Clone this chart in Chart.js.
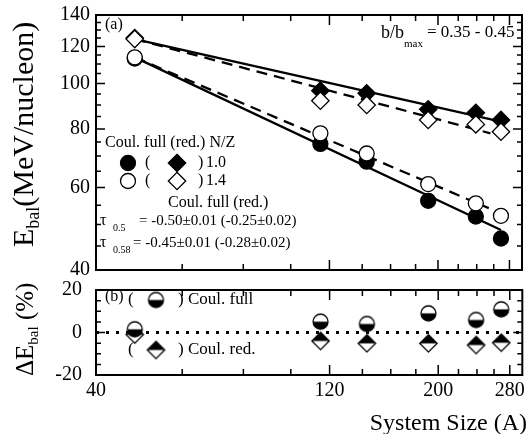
<!DOCTYPE html>
<html>
<head>
<meta charset="utf-8">
<script src="https://cdn.jsdelivr.net/npm/chart.js@4.4.1/dist/chart.umd.min.js"></script>
<style>
html, body { margin: 0; padding: 0; background: #fff; }
#wrap { position: relative; width: 532px; height: 434px; }
.box { position: absolute; left: 0; width: 532px; }
</style>
</head>
<body>
<div id="wrap">
  <div class="box" style="top:0;height:280px"><canvas id="topChart"></canvas></div>
  <div class="box" style="top:280px;height:154px"><canvas id="botChart"></canvas></div>
</div>
<script>
// system size A of the six reactions
var sizeA = [48, 115, 143, 191, 239, 269];
// E_bal (MeV/nucleon)
var fullNZ10 = [113.0, 74.3, 68.1, 56.2, 52.0, 46.7];  // Coul. full, N/Z 1.0
var fullNZ14 = [113.7, 78.3, 70.9, 61.0, 55.5, 52.2];  // Coul. full, N/Z 1.4
var redNZ10 = [125.0, 96.5, 95.3, 88.1, 86.6, 83.6];   // Coul. red., N/Z 1.0
var redNZ14 = [124.4, 91.9, 90.0, 83.6, 81.8, 78.9];   // Coul. red., N/Z 1.4
// Delta E_bal (%)
var deltaFull = [1.5, 5.1, 4.0, 9.0, 5.9, 10.9];
var deltaRed = [-1.0, -4.0, -5.1, -5.1, -5.9, -4.8];

// power law fits, end points
var fit05A = [48, 269];
var fit05Full = [113.7, 48.7];
var fit05Red = [124.4, 82.9];
var fit058FullA = [48, 254];
var fit058Full = [113.7, 54.2];
var fit058RedA = [48, 256];
var fit058Red = [124.4, 78.3];
var zeroA = [40, 297];
var zeroY = [0, 0];

// axes
var xMin = 40, xMax = 297;
var xLabels = [40, 120, 200, 280];
var xMinor = [60, 80, 100, 140, 160, 180, 220, 240, 260];
var yTopLabels = [40, 60, 80, 100, 120, 140];
var yTopMinor = [45, 50, 55, 65, 70, 75, 85, 90, 95, 105, 110, 115, 125, 130, 135];
var yBotLabels = [-20, 0, 20];
var yBotMinor = [-15, -10, -5, 5, 10, 15];

var FONT = '"Liberation Serif", "Times New Roman", serif';
Chart.defaults.font.family = FONT;
Chart.defaults.color = '#000';

var RC = 7.5, RD = 8.7;  // circle / diamond marker radius

function pts(xs, ys) {
    var out = [];
    for (var i = 0; i < xs.length; i++) out.push({ x: xs[i], y: ys[i] });
    return out;
}

function halfMarker(kind) {
    var c = document.createElement('canvas');
    c.width = 21; c.height = 21;
    var g = c.getContext('2d');
    var m = 10.5, r = kind == 'circle' ? RC : RD;
    g.lineWidth = 1.3;
    g.strokeStyle = '#000';
    g.beginPath();
    if (kind == 'circle') g.arc(m, m, r, 0, Math.PI * 2);
    else { g.moveTo(m, m - r); g.lineTo(m + r, m); g.lineTo(m, m + r); g.lineTo(m - r, m); g.closePath(); }
    g.fillStyle = '#fff';
    g.fill();
    g.save();
    g.clip();
    g.fillStyle = '#000';
    if (kind == 'circle') g.fillRect(0, m, 21, 11);
    else g.fillRect(0, 0, 21, m);
    g.restore();
    g.stroke();
    return c;
}
var halfCircle = halfMarker('circle');
var halfDiamond = halfMarker('diamond');

function txt(ctx, s, x, y, size, align) {
    ctx.font = size + 'px ' + FONT;
    ctx.fillStyle = '#000';
    ctx.textAlign = align || 'left';
    ctx.textBaseline = 'middle';
    ctx.fillText(s, x, y);
    return ctx.measureText(s).width;
}

// rotated axis title made of [text, size, shift] pieces
function vtitle(ctx, x, y, parts) {
    ctx.save();
    ctx.translate(x, y);
    ctx.rotate(-Math.PI / 2);
    ctx.fillStyle = '#000';
    ctx.textAlign = 'left';
    ctx.textBaseline = 'alphabetic';
    var cx = 0;
    parts.forEach(function (p) {
        ctx.font = p[1] + 'px ' + FONT;
        ctx.fillText(p[0], cx, p[2]);
        cx += ctx.measureText(p[0]).width;
    });
    ctx.restore();
}

function marker(ctx, kind, x, y, filled) {
    ctx.beginPath();
    if (kind == 'circle') ctx.arc(x, y, RC, 0, Math.PI * 2);
    else { ctx.moveTo(x, y - RD); ctx.lineTo(x + RD, y); ctx.lineTo(x, y + RD); ctx.lineTo(x - RD, y); ctx.closePath(); }
    ctx.fillStyle = filled ? '#000' : '#fff';
    ctx.fill();
    ctx.strokeStyle = '#000';
    ctx.lineWidth = 1.3;
    ctx.stroke();
}

function frameAndTicks(chart, yMajor, yMinor) {
    var ctx = chart.ctx, a = chart.chartArea;
    var xs = chart.scales.x, ys = chart.scales.y;
    ctx.save();
    ctx.strokeStyle = '#000';
    ctx.lineWidth = 1.5;
    ctx.beginPath();
    function xt(v, len) {
        var p = xs.getPixelForValue(v);
        ctx.moveTo(p, a.bottom); ctx.lineTo(p, a.bottom - len);
        ctx.moveTo(p, a.top); ctx.lineTo(p, a.top + len);
    }
    function yt(v, len) {
        var p = ys.getPixelForValue(v);
        ctx.moveTo(a.left, p); ctx.lineTo(a.left + len, p);
        ctx.moveTo(a.right, p); ctx.lineTo(a.right - len, p);
    }
    xLabels.forEach(function (v) { xt(v, 10); });
    xMinor.forEach(function (v) { xt(v, 6); });
    yMajor.forEach(function (v) { yt(v, 9); });
    yMinor.forEach(function (v) { yt(v, 5); });
    ctx.stroke();
    ctx.lineWidth = 2;
    ctx.strokeRect(a.left, a.top, a.right - a.left, a.bottom - a.top);
    ctx.restore();
}

var topDecor = {
    id: 'topDecor',
    afterDraw: function (chart) {
        var ctx = chart.ctx;
        frameAndTicks(chart, yTopLabels, yTopMinor);
        ctx.save();
        vtitle(ctx, 33, 247, [['E', 30, 0], ['bal', 18, 6], ['(MeV/nucleon)', 30, 0]]);
        txt(ctx, '(a)', 105, 25, 16);
        var bx = 381;
        bx += txt(ctx, 'b/b', bx, 33, 18);
        txt(ctx, 'max', bx, 44, 11);
        txt(ctx, '= 0.35 - 0.45', 427, 33, 17);
        txt(ctx, 'Coul. full (red.) N/Z', 105, 143, 16);
        marker(ctx, 'circle', 128, 163, true);
        txt(ctx, '(', 145, 163, 16);
        marker(ctx, 'diamond', 177, 163, true);
        txt(ctx, ')', 198, 163, 16);
        txt(ctx, '1.0', 206, 163, 16);
        marker(ctx, 'circle', 128, 181, false);
        txt(ctx, '(', 145, 181, 16);
        marker(ctx, 'diamond', 177, 181, false);
        txt(ctx, ')', 198, 181, 16);
        txt(ctx, '1.4', 206, 181, 16);
        txt(ctx, 'Coul. full (red.)', 168, 203, 16);
        txt(ctx, '\u03c4', 100, 221, 16);
        txt(ctx, '0.5', 113, 228, 10);
        txt(ctx, '= -0.50\u00b10.01 (-0.25\u00b10.02)', 139, 221, 15);
        txt(ctx, '\u03c4', 100, 243, 16);
        txt(ctx, '0.58', 113, 250, 10);
        txt(ctx, '= -0.45\u00b10.01 (-0.28\u00b10.02)', 133, 243, 15);
        ctx.restore();
    }
};

var botDecor = {
    id: 'botDecor',
    afterDraw: function (chart) {
        var ctx = chart.ctx;
        frameAndTicks(chart, yBotLabels, yBotMinor);
        ctx.save();
        vtitle(ctx, 33, 96, [['\u0394E', 25, 0], ['bal', 15, 5], [' (%)', 25, 0]]);
        ctx.font = '24px ' + FONT; ctx.fillStyle = '#000';
        ctx.textAlign = 'right'; ctx.textBaseline = 'alphabetic';
        ctx.fillText('System Size (A)', 527, 150);
        txt(ctx, '(b)', 105, 17, 16);
        txt(ctx, '(', 128, 20, 17);
        ctx.drawImage(halfCircle, 156 - 10.5, 20 - 10.5);
        txt(ctx, ')', 178, 20, 17);
        txt(ctx, 'Coul. full', 188, 20, 17);
        txt(ctx, '(', 128, 70, 17);
        ctx.drawImage(halfDiamond, 156 - 10.5, 70 - 10.5);
        txt(ctx, ') Coul. red.', 178, 70, 17);
        ctx.restore();
    }
};

function lineSet(xs, ys, dash) {
    return { data: pts(xs, ys), showLine: true, pointRadius: 0, borderColor: '#000',
             borderWidth: 2.3, borderDash: dash || [], order: 10 };
}
function pointSet(ys, style, radius, filled, order) {
    return { data: pts(sizeA, ys), pointStyle: style, pointRadius: radius,
             backgroundColor: filled ? '#000' : '#fff', borderColor: '#000',
             borderWidth: 1.3, order: order };
}
function noPad(s) {
    s.paddingTop = 0; s.paddingBottom = 0; s.paddingLeft = 0; s.paddingRight = 0;
}

new Chart(document.getElementById('topChart'), {
    type: 'scatter',
    data: {
        datasets: [
            lineSet(fit05A, fit05Full),
            lineSet(fit05A, fit05Red),
            lineSet(fit058FullA, fit058Full, [11, 7]),
            lineSet(fit058RedA, fit058Red, [11, 7]),
            pointSet(fullNZ10, 'circle', RC, true, 3),
            pointSet(redNZ10, 'rectRot', RD, true, 3),
            pointSet(fullNZ14, 'circle', RC, false, 1),
            pointSet(redNZ14, 'rectRot', RD, false, 1)
        ]
    },
    options: {
        responsive: true, maintainAspectRatio: false, animation: false,
        layout: { padding: { left: 0, right: 3, top: 15, bottom: 10 } },
        plugins: { legend: { display: false }, tooltip: { enabled: false } },
        scales: {
            x: { type: 'logarithmic', min: xMin, max: xMax, display: false },
            y: {
                type: 'logarithmic', min: 40, max: 140,
                grid: { display: false, drawTicks: false }, border: { display: false },
                afterBuildTicks: function (s) { s.ticks = yTopLabels.map(function (v) { return { value: v }; }); },
                afterFit: function (s) { s.width = 96; noPad(s); },
                ticks: { padding: 6, autoSkip: false, font: { size: 20 }, callback: function (v) { return String(v); } }
            }
        }
    },
    plugins: [topDecor]
});

new Chart(document.getElementById('botChart'), {
    type: 'scatter',
    data: {
        datasets: [
            { data: pts(zeroA, zeroY), showLine: true, pointRadius: 0, borderColor: '#000',
              borderWidth: 3, borderDash: [3, 7], order: 10 },
            { data: pts(sizeA, deltaRed), pointStyle: halfDiamond, pointRadius: RD, order: 2 },
            { data: pts(sizeA, deltaFull), pointStyle: halfCircle, pointRadius: RC, order: 1 }
        ]
    },
    options: {
        responsive: true, maintainAspectRatio: false, animation: false,
        layout: { padding: { left: 0, right: 3, top: 10, bottom: 0 } },
        plugins: { legend: { display: false }, tooltip: { enabled: false } },
        scales: {
            x: {
                type: 'logarithmic', min: xMin, max: xMax,
                grid: { display: false, drawTicks: false }, border: { display: false },
                afterBuildTicks: function (s) { s.ticks = xLabels.map(function (v) { return { value: v }; }); },
                afterFit: function (s) { s.height = 59; noPad(s); },
                ticks: { padding: 4, autoSkip: false, maxRotation: 0, font: { size: 20 },
                         callback: function (v) { return String(v); } }
            },
            y: {
                min: -20, max: 20,
                grid: { display: false, drawTicks: false }, border: { display: false },
                afterBuildTicks: function (s) { s.ticks = yBotLabels.map(function (v) { return { value: v }; }); },
                afterFit: function (s) { s.width = 96; noPad(s); },
                ticks: { padding: 14, font: { size: 20 }, callback: function (v) { return String(v); } }
            }
        }
    },
    plugins: [botDecor]
});
</script>
</body>
</html>
